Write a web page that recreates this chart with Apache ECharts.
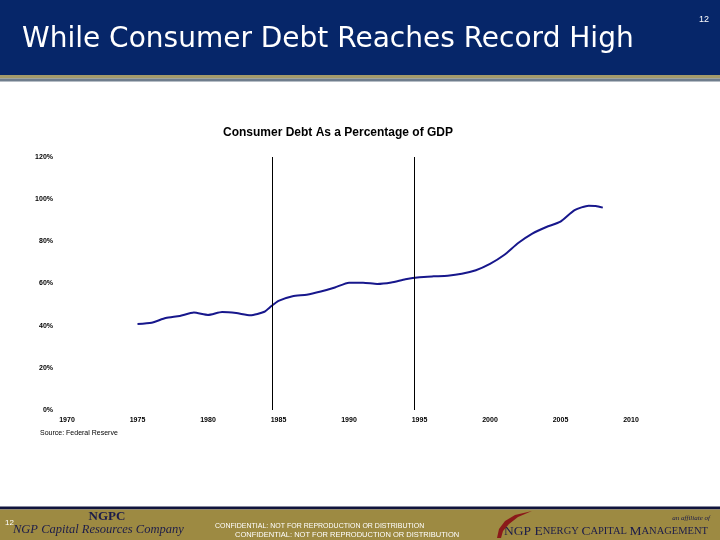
<!DOCTYPE html>
<html>
<head>
<meta charset="utf-8">
<script src="https://cdn.jsdelivr.net/npm/echarts@6/dist/echarts.min.js"></script>
<style>
html,body{margin:0;padding:0;background:#fff;}
#chart{width:720px;height:540px;}
</style>
</head>
<body>
<div id="chart"></div>
<script>
// ---- data ----
const years = [1975, 1976, 1977, 1978, 1979, 1980, 1981, 1982, 1983, 1984, 1984.5, 1985, 1986, 1987, 1988, 1989, 1990, 1991, 1992, 1993, 1994, 1995, 1996, 1997, 1998, 1999, 2000, 2001, 2002, 2003, 2004, 2005, 2006, 2007, 2007.5, 2008];
const debtPct = [40.8, 41.4, 43.6, 44.6, 46.2, 45.1, 46.5, 46.0, 44.9, 46.6, 49.3, 51.8, 54.0, 54.7, 56.2, 58.1, 60.4, 60.4, 59.8, 60.5, 62.0, 63.0, 63.4, 63.7, 64.6, 66.3, 69.3, 73.5, 79.2, 83.7, 86.8, 89.3, 94.8, 96.9, 96.8, 96.0];
const markerYears = [1984.55, 1994.6];
const xTicks = {min: 1970, max: 2010, step: 5};
const yTicks = {min: 0, max: 120, step: 20};
const chartTitle = 'Consumer Debt As a Percentage of GDP';
const slideTitle = 'While Consumer Debt Reaches Record High';
const sourceNote = 'Source: Federal Reserve';
const pageNo = '12';
const confidential = 'CONFIDENTIAL: NOT FOR REPRODUCTION OR DISTRIBUTION';

const chart = echarts.init(document.getElementById('chart'));
const seriesData = years.map((y, i) => [y, debtPct[i]]);

const option = {
  animation: false,
  backgroundColor: '#ffffff',
  grid: {left: 67, right: 89, top: 157, bottom: 130, containLabel: false},
  xAxis: {
    type: 'value', min: xTicks.min, max: xTicks.max, interval: xTicks.step,
    axisLine: {show: false}, axisTick: {show: false}, splitLine: {show: false},
    axisLabel: {color: '#000', fontSize: 7, fontWeight: 'bold', fontFamily: 'Liberation Sans', margin: 7,
      formatter: v => String(v)}
  },
  yAxis: {
    type: 'value', min: yTicks.min, max: yTicks.max, interval: yTicks.step,
    axisLine: {show: false}, axisTick: {show: false}, splitLine: {show: false},
    axisLabel: {color: '#000', fontSize: 7, fontWeight: 'bold', fontFamily: 'Liberation Sans', margin: 14, formatter: '{value}%'}
  },
  series: [{
    type: 'line',
    data: seriesData,
    showSymbol: false,
    smooth: 0.2,
    lineStyle: {color: '#17178c', width: 2},
    markLine: {
      silent: true, symbol: 'none', animation: false,
      label: {show: false},
      lineStyle: {color: '#000', width: 1, type: 'solid'},
      data: markerYears.map(v => ({xAxis: v}))
    }
  }],
  graphic: [
    // header band
    {type: 'rect', shape: {x: 0, y: 0, width: 720, height: 75}, style: {fill: '#062669'}, z: 0},
    {type: 'rect', shape: {x: 0, y: 75, width: 720, height: 3.5}, style: {fill: '#a39a6a'}, z: 0},
    {type: 'rect', shape: {x: 0, y: 78.5, width: 720, height: 3}, style: {fill: '#6f7d8c'}, z: 0},
    {type: 'text', x: 22, y: 40, style: {text: slideTitle, fill: '#ffffff', font: '28px "DejaVu Sans"', textVerticalAlign: 'middle'}, z: 1},
    {type: 'text', x: 704, y: 20, style: {text: pageNo, fill: '#ffffff', font: '9px "Liberation Sans"', textAlign: 'center', textVerticalAlign: 'middle'}, z: 1},
    // chart title & source
    {type: 'text', x: 338, y: 133, style: {text: chartTitle, fill: '#000', font: 'bold 12px "Liberation Sans"', textAlign: 'center', textVerticalAlign: 'middle'}, z: 1},
    {type: 'text', x: 40, y: 433, style: {text: sourceNote, fill: '#000', font: '7px "Liberation Sans"', textVerticalAlign: 'middle'}, z: 1},
    // footer band
    {type: 'rect', shape: {x: 0, y: 506.5, width: 720, height: 3}, style: {fill: '#10143c'}, z: 0},
    {type: 'rect', shape: {x: 0, y: 509.5, width: 720, height: 31}, style: {fill: '#9d8a42'}, z: 0},
    {type: 'text', x: 107, y: 517, style: {text: 'NGPC', fill: '#1c1c4a', font: 'bold 13px "Liberation Serif"', textAlign: 'center', textVerticalAlign: 'middle'}, z: 1},
    {type: 'text', x: 13, y: 530, style: {text: 'NGP Capital Resources Company', fill: '#1c1c4a', font: 'italic 12.5px "Liberation Serif"', textVerticalAlign: 'middle'}, z: 1},
    {type: 'text', x: 5, y: 523, style: {text: pageNo, fill: '#ffffff', font: '8px "Liberation Sans"', textVerticalAlign: 'middle'}, z: 2},
    {type: 'text', x: 215, y: 526, style: {text: confidential, fill: '#ffffff', font: '7px "Liberation Sans"', textVerticalAlign: 'middle'}, z: 1},
    {type: 'text', x: 235, y: 534.5, style: {text: confidential, fill: '#ffffff', font: '7.5px "Liberation Sans"', textVerticalAlign: 'middle'}, z: 1},
    {type: 'text', x: 710, y: 518, style: {text: 'an affiliate of', fill: '#1c1c4a', font: 'italic 7px "Liberation Serif"', textAlign: 'right', textVerticalAlign: 'middle'}, z: 1},
    {type: 'text', x: 504, y: 531, style: {
      text: '{b|NGP E}{s|NERGY }{b|C}{s|APITAL }{b|M}{s|ANAGEMENT}',
      fill: '#1c1c4a', textVerticalAlign: 'middle',
      rich: {
        b: {fill: '#1c1c4a', font: '13.5px "Liberation Serif"'},
        s: {fill: '#1c1c4a', font: '10.5px "Liberation Serif"'}
      }
    }, z: 1},
    {type: 'polygon', shape: {points: [[497, 538], [499, 529], [505, 521], [515, 515], [532, 511], [518, 517], [509, 524], [503, 531], [501, 538]]}, style: {fill: '#8b1a1a'}, z: 1}
  ]
};
chart.setOption(option);
</script>
</body>
</html>
